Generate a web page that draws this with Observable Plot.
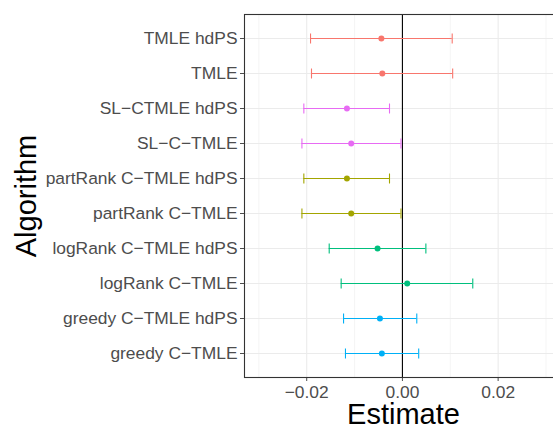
<!DOCTYPE html>
<html>
<head>
<meta charset="utf-8">
<script src="https://cdn.jsdelivr.net/npm/d3@7"></script>
<script src="https://cdn.jsdelivr.net/npm/@observablehq/plot@0.6"></script>
<style>
  html, body { margin: 0; padding: 0; overflow: hidden; background: #fff; }
  #chart { width: 553px; height: 424px; overflow: hidden; }
  #chart svg { max-width: none !important; height: 430px !important; width: 563px !important; }
</style>
</head>
<body>
<div id="chart"></div>
<script>
const algorithms = [
  "TMLE hdPS", "TMLE", "SL\u2212CTMLE hdPS", "SL\u2212C\u2212TMLE",
  "partRank C\u2212TMLE hdPS", "partRank C\u2212TMLE",
  "logRank C\u2212TMLE hdPS", "logRank C\u2212TMLE",
  "greedy C\u2212TMLE hdPS", "greedy C\u2212TMLE"
];
const groups = ["TMLE", "TMLE", "SL", "SL", "partRank", "partRank", "logRank", "logRank", "greedy", "greedy"];
const estimates = [-0.0044, -0.0042, -0.0116, -0.0107, -0.0116, -0.0107, -0.0052, 0.0010, -0.0047, -0.0043];
const lower = [-0.0192, -0.0190, -0.0206, -0.0210, -0.0206, -0.0210, -0.0153, -0.0128, -0.0123, -0.0119];
const upper = [0.0104, 0.0105, -0.0027, -0.0003, -0.0027, -0.0003, 0.0049, 0.0147, 0.0030, 0.0034];
const groupNames = ["TMLE", "SL", "partRank", "logRank", "greedy"];
const groupColors = ["#F8766D", "#E76BF3", "#A3A500", "#00BF7D", "#00B0F6"];
const majorTicks = [-0.02, 0, 0.02];
const minorTicks = [-0.03, -0.01, 0.01, 0.03];
const xTitle = "Estimate";
const yTitle = "Algorithm";

const data = algorithms.map((a, i) => ({
  alg: a, group: groups[i], est: estimates[i], lo: lower[i], hi: upper[i]
}));

const capSymbol = {
  draw(ctx) { ctx.moveTo(0, -5); ctx.lineTo(0, 5); }
};

const fmt = d => (d < 0 ? "\u2212" : "") + Math.abs(d).toFixed(2);

const chart = Plot.plot({
  width: 563,
  height: 430,
  marginLeft: 244,
  marginRight: 1,
  marginTop: 14,
  marginBottom: 53,
  style: { fontFamily: "'Liberation Sans', Arial, sans-serif", fontSize: "17.4px", color: "#4D4D4D", background: "#fff", maxWidth: "none" },
  x: {
    domain: [-0.0330, 0.03345],
    ticks: majorTicks,
    tickFormat: fmt,
    tickSize: 4,
    tickPadding: 4,
    label: null
  },
  y: {
    type: "point",
    domain: algorithms,
    padding: 0.6,
    tickSize: 4,
    tickPadding: 3,
    label: null
  },
  color: { domain: groupNames, range: groupColors },
  marks: [
    Plot.ruleX(minorTicks, { stroke: "#EBEBEB", strokeWidth: 0.55 }),
    Plot.ruleX(majorTicks, { stroke: "#EBEBEB", strokeWidth: 1.1 }),
    Plot.ruleY(algorithms, { stroke: "#EBEBEB", strokeWidth: 1.1 }),
    Plot.ruleX([0], { stroke: "#000", strokeWidth: 1.1 }),
    Plot.ruleY(data, { y: "alg", x1: "lo", x2: "hi", stroke: "group", strokeWidth: 1.1 }),
    Plot.dot(data, { x: "lo", y: "alg", symbol: capSymbol, stroke: "group", fill: "none", strokeWidth: 1.1 }),
    Plot.dot(data, { x: "hi", y: "alg", symbol: capSymbol, stroke: "group", fill: "none", strokeWidth: 1.1 }),
    Plot.dot(data, { x: "est", y: "alg", fill: "group", r: 3 }),
    Plot.frame({ stroke: "#333333", strokeWidth: 1.1 }),
    Plot.text([xTitle], { frameAnchor: "bottom", dy: 46, lineAnchor: "bottom", textAnchor: "middle", fontSize: 29, fill: "#000" }),
    Plot.text([yTitle], { frameAnchor: "left", dx: -209, rotate: -90, lineAnchor: "bottom", textAnchor: "middle", fontSize: 29, fill: "#000" })
  ]
});

document.getElementById("chart").appendChild(chart);
</script>
</body>
</html>
